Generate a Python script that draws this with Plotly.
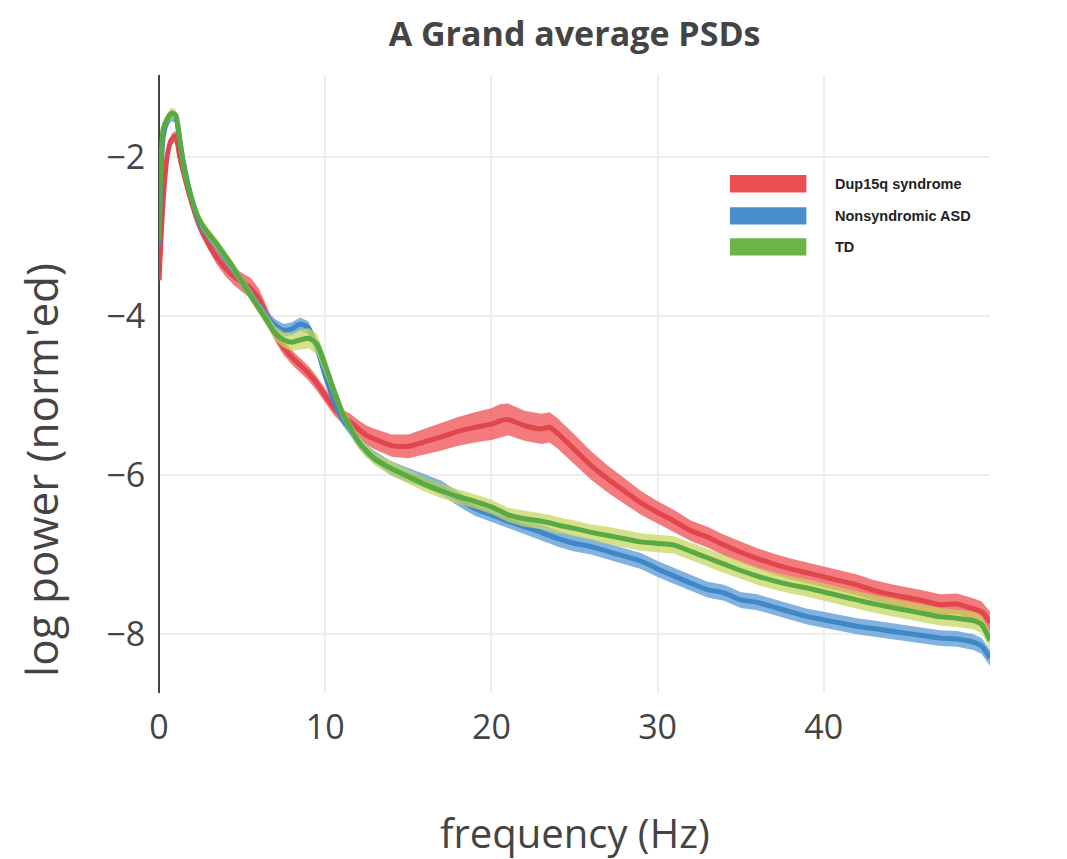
import plotly.graph_objects as go

# ---------------- data ----------------
freq = [0, 0.25, 0.5, 0.75, 1.0, 1.25, 1.5, 2, 2.5, 3, 3.5, 4, 4.5, 5, 5.5, 6, 6.5, 7, 7.5, 8,
        8.5, 9, 9.5, 10, 10.5, 11, 11.5, 12, 12.5, 13, 14, 15, 16, 17, 18, 19, 20, 20.5, 21, 22,
        23, 23.5, 24, 25, 26, 27, 28, 29, 30, 31, 32, 33, 34, 35, 36, 37, 38, 39, 40, 41,
        42, 43, 44, 45, 46, 47, 48, 49, 49.5, 50]

dup15q = [-3.55, -2.55, -1.98, -1.78, -1.74, -2.00, -2.22, -2.60, -2.90, -3.10, -3.27, -3.40, -3.50, -3.58, -3.65, -3.78, -4.00, -4.22, -4.40, -4.52,
          -4.62, -4.72, -4.85, -5.00, -5.15, -5.26, -5.33, -5.42, -5.50, -5.55, -5.63, -5.64, -5.58, -5.52, -5.45, -5.40, -5.36, -5.32, -5.30, -5.38,
          -5.42, -5.40, -5.48, -5.68, -5.88, -6.05, -6.20, -6.35, -6.47, -6.58, -6.70, -6.78, -6.88, -6.97, -7.05, -7.12, -7.18, -7.23, -7.28, -7.33,
          -7.38, -7.45, -7.50, -7.54, -7.58, -7.63, -7.62, -7.68, -7.72, -7.85]
dup15q_se = [0.07, 0.07, 0.07, 0.07, 0.07, 0.07, 0.07, 0.07, 0.08, 0.08, 0.09, 0.10, 0.11, 0.12, 0.13, 0.13, 0.11, 0.10, 0.09, 0.09,
             0.09, 0.09, 0.09, 0.09, 0.09, 0.09, 0.10, 0.11, 0.12, 0.13, 0.14, 0.15, 0.16, 0.17, 0.18, 0.19, 0.20, 0.21, 0.20, 0.19,
             0.19, 0.19, 0.19, 0.19, 0.18, 0.17, 0.16, 0.15, 0.14, 0.14, 0.13, 0.13, 0.13, 0.13, 0.13, 0.13, 0.13, 0.13, 0.13, 0.13,
             0.13, 0.13, 0.13, 0.13, 0.13, 0.13, 0.13, 0.13, 0.13, 0.13]

asd = [-3.10, -1.75, -1.55, -1.48, -1.50, -1.80, -2.10, -2.55, -2.85, -3.00, -3.12, -3.28, -3.42, -3.57, -3.72, -3.88, -4.02, -4.12, -4.18, -4.16,
       -4.10, -4.15, -4.40, -4.75, -5.05, -5.28, -5.42, -5.58, -5.70, -5.78, -5.92, -6.00, -6.07, -6.16, -6.30, -6.42, -6.50, -6.54, -6.58, -6.65,
       -6.72, -6.76, -6.80, -6.86, -6.90, -6.96, -7.02, -7.08, -7.18, -7.27, -7.36, -7.44, -7.48, -7.57, -7.60, -7.66, -7.72, -7.78, -7.82, -7.86,
       -7.90, -7.93, -7.96, -7.99, -8.02, -8.05, -8.06, -8.10, -8.15, -8.30]
asd_se = [0.07, 0.07, 0.07, 0.07, 0.07, 0.07, 0.07, 0.07, 0.07, 0.07, 0.07, 0.07, 0.07, 0.07, 0.07, 0.07, 0.08, 0.08, 0.08, 0.08,
          0.08, 0.08, 0.08, 0.08, 0.08, 0.08, 0.08, 0.08, 0.08, 0.08, 0.09, 0.09, 0.09, 0.09, 0.09, 0.09, 0.09, 0.09, 0.09, 0.09,
          0.10, 0.10, 0.10, 0.10, 0.10, 0.10, 0.10, 0.10, 0.10, 0.10, 0.10, 0.10, 0.10, 0.10, 0.10, 0.10, 0.10, 0.10, 0.10, 0.10,
          0.10, 0.10, 0.10, 0.10, 0.10, 0.10, 0.10, 0.10, 0.10, 0.10]

td = [-3.05, -1.65, -1.52, -1.45, -1.47, -1.78, -2.15, -2.55, -2.82, -2.97, -3.10, -3.25, -3.40, -3.57, -3.74, -3.90, -4.06, -4.22, -4.30, -4.33,
      -4.30, -4.28, -4.35, -4.62, -4.92, -5.20, -5.40, -5.58, -5.70, -5.80, -5.92, -6.02, -6.12, -6.20, -6.27, -6.33, -6.40, -6.45, -6.50, -6.55,
      -6.58, -6.60, -6.63, -6.67, -6.72, -6.76, -6.80, -6.84, -6.86, -6.88, -6.96, -7.04, -7.12, -7.20, -7.27, -7.33, -7.38, -7.42, -7.47, -7.52,
      -7.57, -7.62, -7.66, -7.70, -7.74, -7.78, -7.80, -7.83, -7.88, -8.08]
td_se = [0.07, 0.07, 0.07, 0.07, 0.07, 0.07, 0.07, 0.07, 0.07, 0.07, 0.07, 0.07, 0.07, 0.07, 0.07, 0.07, 0.08, 0.09, 0.10, 0.11,
         0.12, 0.13, 0.13, 0.12, 0.10, 0.09, 0.08, 0.08, 0.08, 0.08, 0.09, 0.09, 0.09, 0.09, 0.09, 0.09, 0.09, 0.09, 0.09, 0.10,
         0.10, 0.10, 0.10, 0.10, 0.10, 0.11, 0.11, 0.11, 0.11, 0.11, 0.11, 0.11, 0.11, 0.11, 0.11, 0.11, 0.11, 0.11, 0.11, 0.11,
         0.11, 0.11, 0.11, 0.11, 0.11, 0.11, 0.11, 0.11, 0.11, 0.11]

groups = ["Dup15q syndrome", "Nonsyndromic ASD", "TD"]
group_means = [dup15q, asd, td]
group_ses = [dup15q_se, asd_se, td_se]
band_colors = ["rgba(240,85,88,0.78)", "rgba(88,152,212,0.75)", "rgba(196,214,92,0.72)"]
line_colors = ["#e0464c", "#3f88c5", "#5aaa44"]
swatch_colors = ["#ea4e52", "#4a8fcb", "#6cb447"]

fig = go.Figure()
for name, m, se, bc, lc in zip(groups, group_means, group_ses, band_colors, line_colors):
    upper = [a + b for a, b in zip(m, se)]
    lower = [a - b for a, b in zip(m, se)]
    fig.add_trace(go.Scatter(
        x=freq + freq[::-1], y=upper + lower[::-1], fill="toself",
        fillcolor=bc, line=dict(color="rgba(0,0,0,0)", width=0),
        hoverinfo="skip", showlegend=False, name=name + " SE"))
    fig.add_trace(go.Scatter(
        x=freq, y=m, mode="lines", line=dict(color=lc, width=5, shape="spline", smoothing=0.6),
        name=name, showlegend=False))

# ---- legend drawn as swatches + labels (paper coordinates) ----
leg_y = [0.824, 0.772, 0.722]
shapes = []
annotations = []
for name, c, yy in zip(groups, swatch_colors, leg_y):
    shapes.append(dict(type="rect", xref="paper", yref="paper", x0=0.687, x1=0.779,
                       y0=yy - 0.014, y1=yy + 0.014, fillcolor=c, line=dict(width=0)))
    annotations.append(dict(xref="paper", yref="paper", x=0.811, y=yy, text="<b>" + name + "</b>",
                            showarrow=False, xanchor="left", yanchor="middle",
                            font=dict(family="Liberation Sans, Arial", size=14.5, color="#222")))

# axis titles as annotations for exact placement
annotations.append(dict(xref="paper", yref="paper", x=-0.142, y=0.361, text="log power (norm'ed)",
                        textangle=-90, showarrow=False, xanchor="center", yanchor="middle",
                        font=dict(family="Open Sans", size=44, color="#444")))
annotations.append(dict(xref="paper", yref="paper", x=0.5, y=-0.225, text="frequency (Hz)",
                        showarrow=False, xanchor="center", yanchor="middle",
                        font=dict(family="Open Sans", size=40, color="#444")))

fig.update_layout(
    width=1059, height=851,
    margin=dict(l=151, r=77, t=67, b=166),
    paper_bgcolor="white", plot_bgcolor="white",
    title=dict(text="<b>A Grand average PSDs</b>", x=0.535, xanchor="center", y=0.969, yanchor="middle",
               font=dict(family="Open Sans", size=34, color="#444")),
    xaxis=dict(range=[0, 50], tickvals=[0, 10, 20, 30, 40], showgrid=True, gridcolor="#eeeeee", gridwidth=2,
               zeroline=True, zerolinecolor="#444", zerolinewidth=2, showline=False,
               ticks="outside", ticklen=4, tickcolor="rgba(0,0,0,0)",
               tickfont=dict(family="Open Sans", size=34, color="#444")),
    yaxis=dict(range=[-8.74, -0.97], tickvals=[-2, -4, -6, -8],
               showgrid=True, gridcolor="#eeeeee", gridwidth=2,
               zeroline=False, showline=False,
               ticks="outside", ticklen=6, tickcolor="rgba(0,0,0,0)",
               tickfont=dict(family="Open Sans", size=34, color="#444")),
    shapes=shapes, annotations=annotations,
)

fig.write_html("out.html")
